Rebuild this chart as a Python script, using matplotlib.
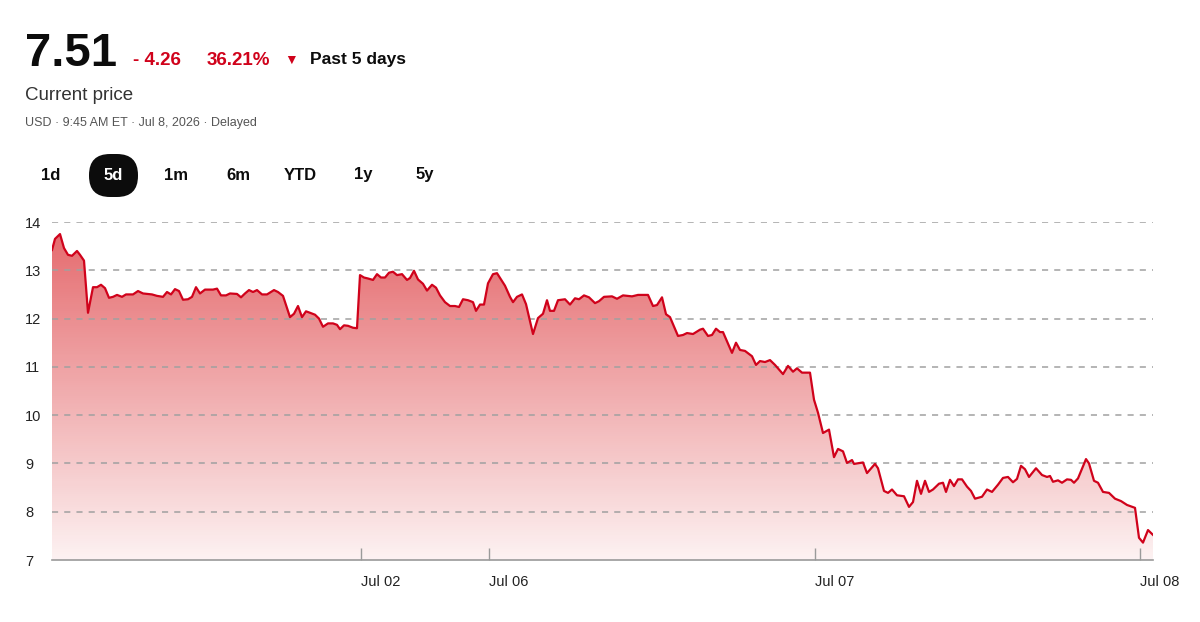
#!/usr/bin/env python

import numpy as np
import matplotlib.pyplot as plt
from matplotlib.patches import FancyBboxPatch, Polygon

plt.rcParams['font.family'] = ['Liberation Sans', 'DejaVu Sans']

# Trading-time position of each sample and the price at that sample.
t = [0, 3, 8, 12, 16, 20, 25, 28, 32, 36,
     41, 45, 49, 53, 57, 61, 65, 70, 74, 81,
     86, 91, 100, 105, 111, 115, 119, 123, 127, 131,
     136, 140, 144, 148, 153, 161, 165, 169, 174, 178,
     185, 189, 193, 197, 201, 205, 210, 215, 222, 226,
     231, 238, 242, 246, 250, 254, 258, 263, 267, 271,
     276, 281, 285, 288, 292, 296, 301, 305, 308, 312,
     316, 321, 325, 329, 333, 337, 341, 345, 350, 355,
     358, 362, 366, 371, 375, 380, 384, 388, 393, 398,
     403, 407, 411, 416, 421, 424, 428, 432, 436, 441,
     445, 449, 453, 458, 461, 465, 470, 474, 481, 486,
     491, 495, 498, 502, 506, 513, 518, 523, 527, 532,
     537, 543, 547, 552, 560, 565, 571, 580, 586, 596,
     601, 605, 610, 614, 618, 626, 631, 635, 641, 648,
     651, 656, 660, 664, 668, 671, 680, 684, 688, 693,
     700, 704, 708, 713, 718, 723, 731, 736, 741, 745,
     750, 758, 762, 766, 771, 777, 782, 786, 791, 795,
     800, 802, 811, 815, 823, 826, 832, 836, 840, 845,
     852, 857, 861, 865, 869, 873, 877, 881, 887, 891,
     894, 898, 902, 906, 910, 915, 919, 923, 930, 935,
     940, 946, 951, 956, 961, 965, 969, 973, 977, 984,
     990, 995, 998, 1001, 1006, 1010, 1015, 1019, 1022, 1026,
     1034, 1037, 1042, 1046, 1051, 1057, 1063, 1069, 1075, 1083,
     1087, 1091, 1096, 1101]
price = [13.42, 13.65, 13.75, 13.46, 13.32, 13.30, 13.40, 13.32, 13.20, 12.12,
         12.65, 12.65, 12.70, 12.63, 12.43, 12.45, 12.49, 12.45, 12.50, 12.50,
         12.57, 12.52, 12.50, 12.47, 12.45, 12.55, 12.50, 12.61, 12.57, 12.39,
         12.40, 12.45, 12.65, 12.52, 12.60, 12.60, 12.62, 12.48, 12.48, 12.52,
         12.51, 12.44, 12.52, 12.59, 12.55, 12.59, 12.50, 12.50, 12.59, 12.55,
         12.47, 12.03, 12.10, 12.26, 12.03, 12.15, 12.12, 12.08, 12.00, 11.83,
         11.90, 11.90, 11.87, 11.78, 11.86, 11.85, 11.81, 11.80, 12.90, 12.85,
         12.83, 12.80, 12.92, 12.85, 12.85, 12.95, 12.97, 12.90, 12.92, 12.80,
         12.84, 12.99, 12.81, 12.72, 12.58, 12.70, 12.64, 12.48, 12.34, 12.26,
         12.26, 12.24, 12.40, 12.38, 12.34, 12.16, 12.29, 12.29, 12.73, 12.92,
         12.94, 12.81, 12.68, 12.45, 12.34, 12.45, 12.50, 12.30, 11.68, 12.01,
         12.10, 12.38, 12.16, 12.16, 12.38, 12.40, 12.29, 12.42, 12.40, 12.48,
         12.44, 12.32, 12.36, 12.45, 12.46, 12.41, 12.48, 12.46, 12.49, 12.49,
         12.26, 12.28, 12.44, 12.09, 12.03, 11.64, 11.66, 11.70, 11.68, 11.77,
         11.79, 11.64, 11.66, 11.79, 11.72, 11.72, 11.29, 11.50, 11.35, 11.33,
         11.22, 11.04, 11.12, 11.10, 11.14, 11.04, 10.85, 11.02, 10.90, 10.97,
         10.88, 10.88, 10.32, 10.05, 9.63, 9.70, 9.13, 9.30, 9.25, 9.01,
         9.07, 8.99, 9.02, 8.80, 8.99, 8.90, 8.43, 8.39, 8.46, 8.34,
         8.32, 8.10, 8.20, 8.64, 8.37, 8.64, 8.41, 8.46, 8.58, 8.60,
         8.41, 8.66, 8.53, 8.67, 8.67, 8.52, 8.43, 8.27, 8.31, 8.46,
         8.41, 8.56, 8.70, 8.72, 8.61, 8.68, 8.95, 8.88, 8.72, 8.90,
         8.76, 8.72, 8.74, 8.62, 8.65, 8.60, 8.67, 8.66, 8.60, 8.69,
         9.09, 9.00, 8.64, 8.60, 8.41, 8.39, 8.27, 8.22, 8.14, 8.08,
         7.46, 7.36, 7.62, 7.52]

tick_pos = [309, 437, 763, 1088]
tick_labels = ['Jul 02', 'Jul 06', 'Jul 07', 'Jul 08']
y_ticks = [7, 8, 9, 10, 11, 12, 13, 14]
ranges = ['1d', '5d', '1m', '6m', 'YTD', '1y', '5y']

line_red = '#d0021b'

fig = plt.figure(figsize=(12, 6.22), dpi=100)
ax = fig.add_axes([52/1200, 1-560/622, 1101/1200, 338/622])
ax.set_xlim(t[0], t[-1])
ax.set_ylim(7, 14)

# Gradient fill under the line, clipped to the area polygon.
grad = np.linspace(0, 1, 256)
rgba = np.zeros((256, 1, 4))
rgba[:, 0, 0] = 0.85
rgba[:, 0, 1] = 0.12
rgba[:, 0, 2] = 0.14
rgba[:, 0, 3] = 0.06 + 0.62 * grad
img = ax.imshow(rgba, aspect='auto', origin='lower',
                extent=[t[0], t[-1], 7, 14], zorder=1)
verts = [(t[0], 7)] + list(zip(t, price)) + [(t[-1], 7)]
clip = Polygon(verts, closed=True, transform=ax.transData,
               facecolor='none', edgecolor='none')
ax.add_patch(clip)
img.set_clip_path(clip)

ax.plot(t, price, color=line_red, lw=1.6, zorder=3, solid_joinstyle='round')

for y in y_ticks[1:]:
    ax.axhline(y, color='#a0a0a0', lw=1.1, ls=(0, (4, 4)), zorder=2)

for s in ['top', 'right', 'left']:
    ax.spines[s].set_visible(False)
ax.spines['bottom'].set_color('#9a9a9a')
ax.spines['bottom'].set_linewidth(1.2)

ax.set_yticks(y_ticks)
ax.set_yticklabels([str(v) for v in y_ticks])
ax.tick_params(axis='y', length=0, pad=0, labelsize=10.5, labelcolor='#222222')
ax.set_xticks(tick_pos)
ax.set_xticklabels(tick_labels)
ax.tick_params(axis='x', direction='in', length=9, width=1, color='#9a9a9a',
               pad=11, labelsize=10.5, labelcolor='#222222')
for lab in ax.get_xticklabels():
    lab.set_horizontalalignment('left')
for lab in ax.get_yticklabels():
    lab.set_horizontalalignment('left')
    lab.set_x(-27/1101)

# Header
fig.text(25/1200, 1-66/622, '7.51', fontsize=34, fontweight='bold', color='#0c0c0c')
fig.text(133/1200, 1-65/622, '- 4.26', fontsize=13.5, fontweight='bold', color=line_red)
fig.text(207/1200, 1-65/622, '36.21%', fontsize=13.5, fontweight='bold', color=line_red)
fig.text(291/1200, 1-64/622, '\u25bc', fontsize=10, color=line_red, ha='center')
fig.text(310/1200, 1-64/622, 'Past 5 days', fontsize=12.5, fontweight='bold', color='#0c0c0c')
fig.text(25/1200, 1-100/622, 'Current price', fontsize=13.5, color='#333333')
fig.text(25/1200, 1-126/622, 'USD \u00b7 9:45 AM ET \u00b7 Jul 8, 2026 \u00b7 Delayed',
         fontsize=9, color='#555555')

btn_x = [51, 113, 176, 238, 300, 363, 425]
for lab, bx in zip(ranges, btn_x):
    if lab == '5d':
        pill = FancyBboxPatch((89, 622-197), 49, 43,
                              boxstyle='round,pad=0,rounding_size=21',
                              transform=None, facecolor='#0c0c0c',
                              edgecolor='none')
        fig.patches.append(pill)
        fig.text(bx/1200, 1-175/622, lab, fontsize=12, fontweight='bold',
                 color='white', ha='center', va='center')
    else:
        fig.text(bx/1200, 1-175/622, lab, fontsize=12, fontweight='bold',
                 color='#0c0c0c', ha='center', va='center')

fig.savefig('out.png', dpi=100)
